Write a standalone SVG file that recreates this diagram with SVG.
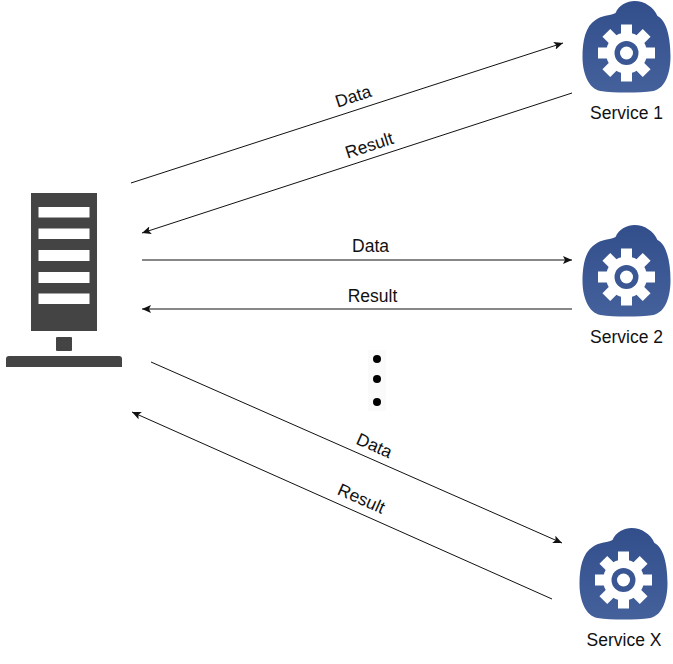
<svg xmlns="http://www.w3.org/2000/svg" width="673" height="664" viewBox="0 0 673 664">
<style>
text{font-family:"Liberation Sans",Arial,sans-serif;font-size:17.500px;fill:#111;text-anchor:middle}
.c{stroke:#111;stroke-width:1;fill:none;marker-end:url(#a)}
.srv{fill:#444}
.bar{fill:#fff}
</style>
<defs>
<marker id="a" markerUnits="userSpaceOnUse" markerWidth="10" markerHeight="8" refX="9" refY="4" orient="auto"><path d="M0,0L9,4L0,8L2,4Z" fill="#111"/></marker>
<linearGradient id="g" x1="0" y1="0" x2="0" y2="1"><stop offset="0" stop-color="#324f8c"/><stop offset="1" stop-color="#44619c"/></linearGradient>
<g id="cloud">
<path fill="url(#g)" d="M-26,38C-38,36-44,20-44,4C-44,-12-41,-27-31,-33C-25,-38-17,-37-11,-40C-8,-48 1,-52 8,-52C18,-52 27,-46 31,-37C40,-33 44,-15 44,3C44,20 39,35 27,38C12,40-12,40-26,38Z"/>
<g fill="#fff">
<circle r="20.500"/>
<rect x="-5.500" y="-28.500" width="11" height="57"/>
<rect x="-5.500" y="-28.500" width="11" height="57" transform="rotate(45)"/>
<rect x="-5.500" y="-28.500" width="11" height="57" transform="rotate(90)"/>
<rect x="-5.500" y="-28.500" width="11" height="57" transform="rotate(135)"/>
</g>
<circle r="12" fill="#3a5794"/>
<circle r="6.500" fill="#fff"/>
</g>
</defs>
<g id="connectors">
<line class="c" x1="131" y1="183" x2="563" y2="43"/>
<line class="c" x1="572" y1="93" x2="142" y2="233"/>
<line class="c" x1="142" y1="260" x2="572" y2="260"/>
<line class="c" x1="572" y1="309" x2="142" y2="309"/>
<line class="c" x1="151" y1="362" x2="562" y2="543"/>
<line class="c" x1="552" y1="599" x2="132" y2="412"/>
<text transform="translate(355,102) rotate(-18)">Data</text>
<text transform="translate(371,151) rotate(-18)">Result</text>
<text x="370.500" y="252">Data</text>
<text x="372.500" y="302">Result</text>
<text transform="translate(372,451) rotate(24)">Data</text>
<text transform="translate(359,504) rotate(24)">Result</text>
</g>
<g id="server">
<rect class="srv" x="31" y="193" width="66" height="138"/>
<rect class="bar" x="38.500" y="207" width="51" height="10.500"/>
<rect class="bar" x="38.500" y="228.500" width="51" height="10.500"/>
<rect class="bar" x="38.500" y="250" width="51" height="11"/>
<rect class="bar" x="38.500" y="272" width="51" height="11"/>
<rect class="bar" x="38.500" y="293.500" width="51" height="10.500"/>
<rect class="srv" x="56" y="337" width="16" height="14" rx="1"/>
<path class="srv" d="M6,367V359Q6,356 9,356H119Q122,356 122,359V367Z"/>
</g>
<g id="service-1"><use href="#cloud" transform="translate(626.500,53)"/><text x="626.500" y="119">Service 1</text></g>
<g id="service-2"><use href="#cloud" transform="translate(626.500,277)"/><text x="626.500" y="343">Service 2</text></g>
<g id="service-x"><use href="#cloud" transform="translate(623.500,580)"/><text x="624" y="646">Service X</text></g>
<g id="dots">
<rect x="368" y="350" width="18" height="61" fill="#fafafa"/>
<circle cx="377" cy="359" r="4" fill="#000"/>
<circle cx="377" cy="379" r="4" fill="#000"/>
<circle cx="377" cy="402" r="4" fill="#000"/>
</g>
</svg>
